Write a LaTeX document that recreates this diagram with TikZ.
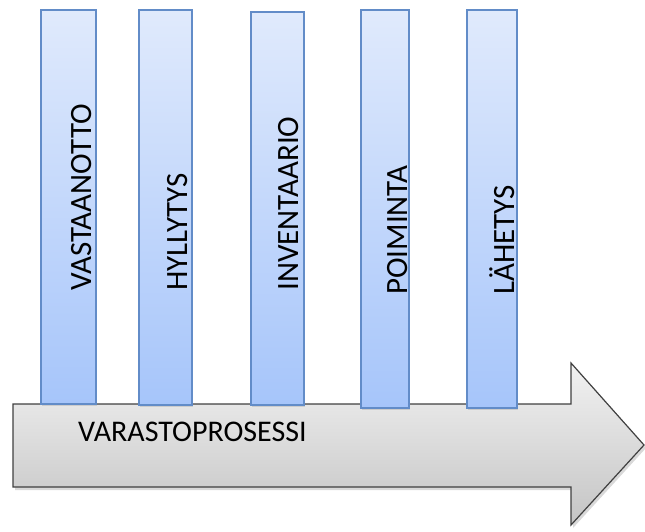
\documentclass[tikz,border=0pt]{standalone}
\usepackage{fontspec}
\setmainfont{Carlito}
\usetikzlibrary{shadows}
\definecolor{palkkiyla}{RGB}{224,234,252}
\definecolor{palkkiala}{RGB}{166,197,250}
\definecolor{palkkireuna}{RGB}{98,140,200}
\definecolor{nuoliyla}{RGB}{242,242,242}
\definecolor{nuoliala}{RGB}{196,196,196}
\begin{document}
\begin{tikzpicture}[x=1pt, y=-1pt,
  palkki/.style={draw=palkkireuna, line width=1.2pt, top color=palkkiyla, bottom color=palkkiala,
    drop shadow={shadow xshift=1pt, shadow yshift=-2pt, opacity=0.25}, inner sep=0pt},
  nuoli/.style={draw=black!75, line width=1.2pt, top color=nuoliyla, bottom color=nuoliala,
    drop shadow={shadow xshift=2pt, shadow yshift=-3pt, opacity=0.3}},
  otsikko/.style={font=\fontsize{30}{31}\selectfont, inner sep=0pt},
  vaihe/.style={font=\fontsize{31}{32}\selectfont, inner sep=0pt, rotate=90, anchor=base west}]
\useasboundingbox (0,0) rectangle (645,531);

% Nuoli
\draw[nuoli] (13,404) -- (571,404) -- (571,363) -- (644,445) -- (571,525) -- (571,487) -- (13,487) -- cycle;
\node[otsikko, anchor=base west] (prosessi) at (78,441) {VARASTOPROSESSI};

% Palkit
\node[palkki, minimum width=55pt, minimum height=394pt] (vastaanotto) at (68.5,207) {};
\node[palkki, minimum width=53pt, minimum height=395pt] (hyllytys) at (165.5,207.5) {};
\node[palkki, minimum width=53pt, minimum height=393pt] (inventaario) at (277.5,208.5) {};
\node[palkki, minimum width=48pt, minimum height=398pt] (poiminta) at (385,209) {};
\node[palkki, minimum width=50pt, minimum height=398pt] (lahetys) at (492,209) {};

% Tekstit
\node[vaihe] (t1) at (91,291) {VASTAANOTTO};
\node[vaihe] (t2) at (187,291) {HYLLYTYS};
\node[vaihe] (t3) at (298,291) {INVENTAARIO};
\node[vaihe] (t4) at (407,295) {POIMINTA};
\node[vaihe] (t5) at (514,295) {LÄHETYS};
\end{tikzpicture}
\end{document}
